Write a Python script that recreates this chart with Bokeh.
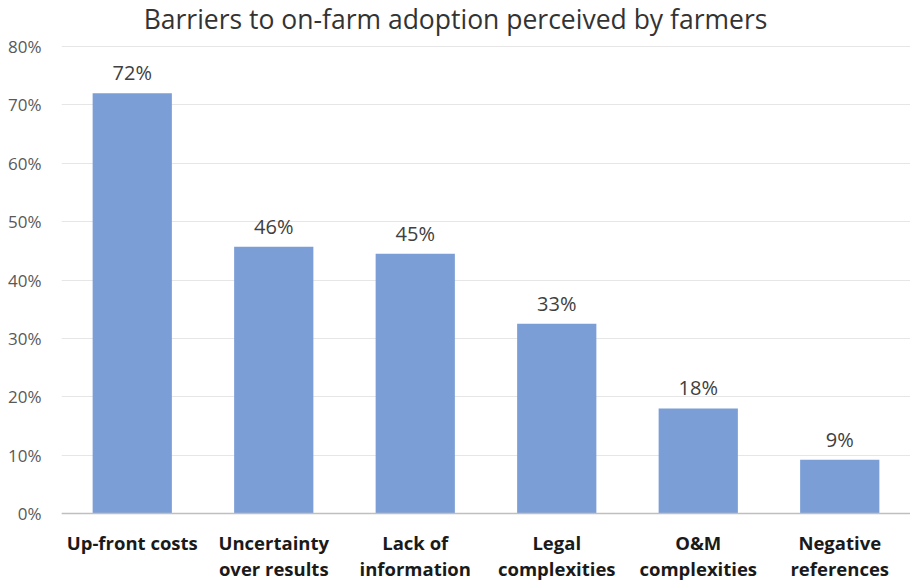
from bokeh.plotting import figure
from bokeh.models import (ColumnDataSource, FactorRange, NumeralTickFormatter, FixedTicker,
                          LabelSet, Label, Span, Range1d)
from bokeh.core.properties import value
from bokeh.embed import file_html
from bokeh.resources import INLINE

title_text = "Barriers to on-farm adoption perceived by farmers"
categories = ["Up-front costs", "Uncertainty over results", "Lack of information",
              "Legal complexities", "O&M complexities", "Negative references"]
label_line1 = ["Up-front costs", "Uncertainty", "Lack of", "Legal", "O&M", "Negative"]
label_line2 = ["", "over results", "information", "complexities", "complexities", "references"]
values = [0.72, 0.457, 0.445, 0.325, 0.18, 0.092]
value_labels = ["72%", "46%", "45%", "33%", "18%", "9%"]
y_ticks = [i / 10 for i in range(9)]

# layout: 0% at 513px, 80% at 46px in a 580px-high canvas
px = 0.8 / 467.0
y_lo = -(580 - 513) * px
y_hi = 0.8 + 46 * px

src = ColumnDataSource(dict(cat=categories, val=values, lab=value_labels,
                            l1=label_line1, l2=label_line2,
                            y1=[-29 * px] * 6, y2=[-55 * px] * 6))

p = figure(width=910, height=580, x_range=FactorRange(*categories),
           y_range=Range1d(y_lo, y_hi),
           output_backend="svg", toolbar_location=None,
           min_border_left=61, min_border_right=0, min_border_top=0, min_border_bottom=0)

p.vbar(x="cat", top="val", width=0.56, source=src, fill_color="#7b9ed6", line_color=None)

p.add_layout(Span(location=0, dimension="width", line_color="#bfbfbf", line_width=1.5))

labels = LabelSet(x="cat", y="val", text="lab", source=src, text_align="center",
                  text_baseline="bottom", y_offset=7, text_font_size="20px",
                  text_color="#404040", text_font=value("Open Sans"))
p.add_layout(labels)

for col_text, col_y in (("l1", "y1"), ("l2", "y2")):
    ls = LabelSet(x="cat", y=col_y, text=col_text, source=src,
                  text_align="center", text_baseline="middle", text_font_size="18.5px",
                  text_font_style="bold", text_color="#1a1a1a", text_font=value("Open Sans"))
    p.add_layout(ls)

title = Label(x=394, x_units="screen", y=0.8 + 28 * px, text=title_text,
              text_align="center", text_baseline="middle", text_font="Open Sans",
              text_font_size="26.5px", text_color="#333333")
p.add_layout(title)

p.yaxis.ticker = FixedTicker(ticks=y_ticks)
p.yaxis.formatter = NumeralTickFormatter(format="0%")
p.yaxis.axis_line_color = None
p.yaxis.major_tick_line_color = None
p.yaxis.minor_tick_line_color = None
p.yaxis.major_label_text_font = "Open Sans"
p.yaxis.major_label_text_font_size = "17px"
p.yaxis.major_label_text_color = "#595959"
p.yaxis.major_label_standoff = 14

p.xaxis.visible = False

p.xgrid.grid_line_color = None
p.ygrid.grid_line_color = "#e6e6e6"
p.outline_line_color = None

open("out.html", "w").write(file_html(p, INLINE))
